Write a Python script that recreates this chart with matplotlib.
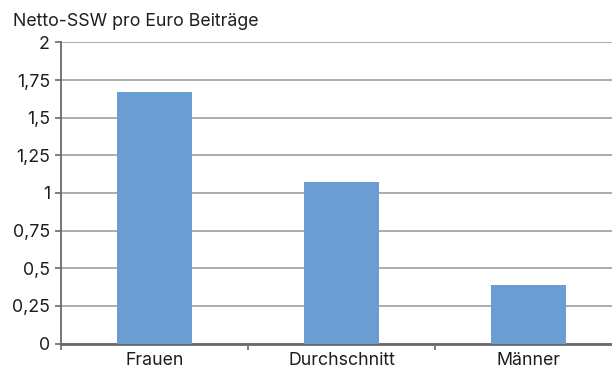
import matplotlib.pyplot as plt
from matplotlib.ticker import FixedLocator

# Netto-SSW je Euro Beitrag nach Geschlecht
categories = ["Frauen", "Durchschnitt", "Männer"]
values = [1.67, 1.07, 0.39]
y_ticks = [0, 0.25, 0.5, 0.75, 1, 1.25, 1.5, 1.75, 2]
y_labels = ["0", "0,25", "0,5", "0,75", "1", "1,25", "1,5", "1,75", "2"]

plt.rcParams["font.family"] = ["Inter", "DejaVu Sans"]
FS = 12.8

fig = plt.figure(figsize=(6.12, 3.65), dpi=100)
ax = fig.add_axes([0.0997, 0.0589, 0.917, 0.8247])

ax.bar(range(len(categories)), values, width=0.40, color="#6a9ed2", zorder=3)

ax.set_xlim(-0.5, len(categories) - 0.5)
ax.set_ylim(0, 2)
ax.set_yticks(y_ticks)
ax.set_yticklabels(y_labels)
ax.yaxis.grid(True, color="#a6a6a6", linewidth=1.3, zorder=0)
ax.set_axisbelow(True)

# category labels in the middle, tick marks between the categories
ax.set_xticks(range(len(categories)))
ax.set_xticklabels(categories)
ax.xaxis.set_minor_locator(FixedLocator([-0.5, 0.5, 1.5, 2.5]))
ax.tick_params(axis="x", which="major", length=0, pad=6, labelsize=FS, colors="#1e1e1e")
ax.tick_params(axis="x", which="minor", length=4, width=1.2, color="#6a6a6a")
ax.tick_params(axis="y", length=4, width=1.2, color="#6a6a6a", pad=4,
               labelsize=FS, labelcolor="#1e1e1e")

for side in ("top", "right"):
    ax.spines[side].set_visible(False)
ax.spines["left"].set_color("#6a6a6a")
ax.spines["left"].set_linewidth(1.3)
ax.spines["bottom"].set_color("#6a6a6a")
ax.spines["bottom"].set_linewidth(2)

fig.text(13 / 612, 1 - 26 / 365, "Netto-SSW pro Euro Beiträge", fontsize=FS,
         color="#1e1e1e", ha="left", va="baseline")

fig.savefig("out.png", dpi=100)
